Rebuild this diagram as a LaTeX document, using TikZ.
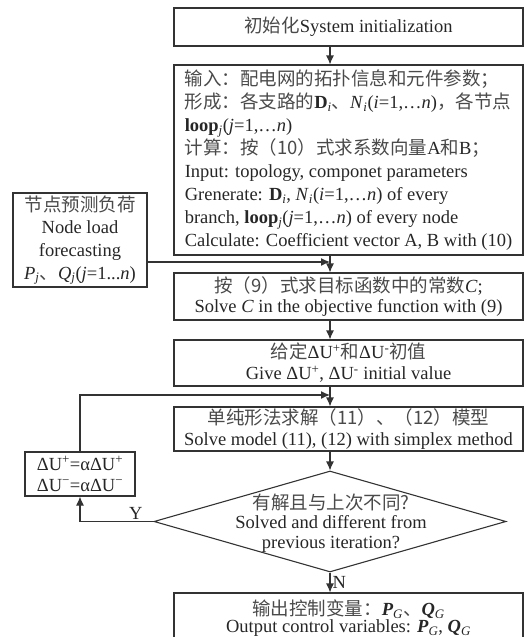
\documentclass[tikz,border=0pt]{standalone}
\usepackage{fontspec}
\setmainfont{Liberation Serif}
\newfontfamily\cjk[Color=4A4A4A]{Noto Sans CJK SC}
\usetikzlibrary{shapes.geometric,arrows.meta}
\newcommand{\sbi}[1]{\textsubscript{\textit{#1}}}
\begin{document}
\begin{tikzpicture}[x=1pt,y=1pt,
  every node/.style={font=\fontsize{18.5pt}{21pt}\selectfont, text=black!85},
  box/.style={draw=black!80, line width=1.1pt, rectangle, inner sep=0pt, align=center},
  arr/.style={draw=black!80, line width=1.1pt, -{Latex[length=9pt,width=8pt]}},
  ln/.style={draw=black!80, line width=1.1pt}]
\useasboundingbox (0,0) rectangle (527,-637);
\clip (0,0) rectangle (527,-637);
\coordinate (spine) at (330,0);
\node[box, minimum width=349pt, minimum height=38pt] (init) at (348.5,-27)
  {{\cjk 初始化}System initialization};
\node[box, minimum width=349pt, minimum height=190pt, align=left,
  font=\fontsize{18.5pt}{23pt}\selectfont] (big) at (348.5,-160)
  {{\cjk 输入：配电网的拓扑信息和元件参数；}\\
   {\cjk 形成：各支路的}\textbf{D}\sbi{i}{\cjk 、}\textit{N}\sbi{i}(\textit{i}=1,…\textit{n}){\cjk ，各节点}\\
   \textbf{loop}\sbi{j}(\textit{j}=1,…\textit{n})\\
   {\cjk 计算：按（10）式求系数向量}A{\cjk 和}B{\cjk ；}\\
   Input: topology, componet parameters\\
   Grenerate: \textbf{D}\sbi{i}, \textit{N}\sbi{i}(\textit{i}=1,…\textit{n}) of every\\
   branch, \textbf{loop}\sbi{j}(\textit{j}=1,…\textit{n}) of every node\\
   Calculate: Coefficient vector A, B with (10)};
\node[box, minimum width=134pt, minimum height=94pt,
  font=\fontsize{18.5pt}{22.7pt}\selectfont] (load) at (80,-240)
  {{\cjk 节点预测负荷}\\Node load\\forecasting\\
   \textit{P}\sbi{j}{\cjk 、}\textit{Q}\sbi{j}(\textit{j}=1...\textit{n})};
\node[box, minimum width=349pt, minimum height=47pt,
  font=\fontsize{18.5pt}{20pt}\selectfont] (boxC) at (348.5,-296.5)
  {{\cjk 按（9）式求目标函数中的常数}\textit{C};\\
   Solve \textit{C} in the objective function with (9)};
\node[box, minimum width=349pt, minimum height=46pt] (dU) at (348.5,-363)
  {{\cjk 给定}ΔU\textsuperscript{+}{\cjk 和}ΔU\textsuperscript{-}{\cjk 初值}\\
   Give ΔU\textsuperscript{+}, ΔU\textsuperscript{-} initial value};
\node[box, minimum width=349pt, minimum height=44pt] (simplex) at (348.5,-429)
  {{\cjk 单纯形法求解（11）、（12）模型}\\
   Solve model (11), (12) with simplex method};
\node[draw=black!80, line width=1.1pt, diamond, minimum width=352pt,
  minimum height=101pt, inner sep=0pt] (dec) at (330,-521.5) {};
\node[align=center, font=\fontsize{18.5pt}{19.5pt}\selectfont] (dectext) at (331,-523)
  {{\cjk 有解且与上次不同?}\\Solved and different from\\previous iteration?};
\node[box, minimum width=110pt, minimum height=44pt] (upd) at (80,-474)
  {ΔU\textsuperscript{+}=αΔU\textsuperscript{+}\\ΔU\textsuperscript{−}=αΔU\textsuperscript{−}};
\node[box, minimum width=349pt, minimum height=50pt,
  font=\fontsize{18.5pt}{17pt}\selectfont] (out) at (348.5,-618)
  {{\cjk 输出控制变量：}\textbf{\textit{P}}\sbi{G}{\cjk 、}\textbf{\textit{Q}}\sbi{G}\\
   Output control variables: \textbf{\textit{P}}\sbi{G}, \textbf{\textit{Q}}\sbi{G}};
% connectors
\coordinate (jL) at (330,-262);
\coordinate (jU) at (330,-395);
\draw[arr] (init.south -| spine) -- (big.north -| spine);
\draw[arr] (big.south -| spine) -- (boxC.north -| spine);
\draw[arr] (load.east |- jL) -- (jL);
\draw[arr] (boxC.south -| spine) -- (dU.north -| spine);
\draw[arr] (dU.south -| spine) -- (simplex.north -| spine);
\draw[arr] (upd.north) |- (jU);
\draw[arr] (simplex.south -| spine) -- (dec.north);
\draw[arr] (dec.west) -| node[pos=0.12, above, inner sep=1pt] (ylab) {Y} (upd.south);
\draw[arr] (dec.south) -- node[right, pos=0.5, inner sep=2pt] (nlab) {N} (out.north -| spine);
\end{tikzpicture}
\end{document}
